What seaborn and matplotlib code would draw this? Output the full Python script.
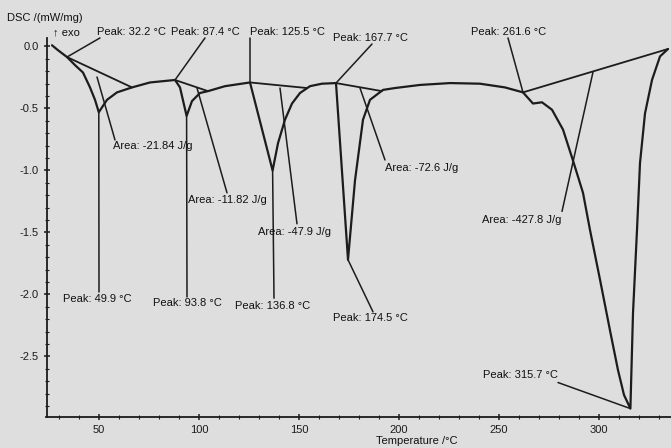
import matplotlib
matplotlib.use("Agg")
import matplotlib.pyplot as plt
import seaborn as sns
import pandas as pd

# DSC curve (temperature in degC, heat flow in mW/mg)
temp = [26.5, 29.5, 34, 38, 42, 45.5, 48, 49.9, 54, 59, 66.5, 75.5, 88,
        90.5, 93.8, 96.5, 100.5, 104.5, 113, 125.5, 136.8, 139.5, 143,
        146.5, 150.5, 155.5, 161.5, 168.5, 174.5, 178, 182, 185.5, 192,
        198, 210.5, 225.5, 240.5, 253, 262, 267, 271.5, 276.5, 282, 287,
        292, 295.5, 300.5, 305.5, 309.5, 312.5, 315.7, 317, 319, 320.5,
        323, 326.5, 330.5, 334.5]
dsc = [0.01, -0.03, -0.085, -0.15, -0.21, -0.33, -0.43, -0.53, -0.43,
       -0.37, -0.33, -0.29, -0.27, -0.33, -0.56, -0.44, -0.375, -0.36,
       -0.32, -0.29, -1.00, -0.78, -0.59, -0.46, -0.375, -0.32, -0.30,
       -0.295, -1.72, -1.08, -0.59, -0.43, -0.35, -0.335, -0.31, -0.295,
       -0.30, -0.33, -0.37, -0.46, -0.45, -0.51, -0.67, -0.92, -1.18,
       -1.48, -1.88, -2.29, -2.61, -2.81, -2.92, -2.15, -1.48, -0.94,
       -0.54, -0.27, -0.08, -0.02]

# integration baselines: (T start, v start, T end, v end)
baselines = [
    (34, -0.085, 66.5, -0.33),
    (88, -0.27, 104.5, -0.36),
    (125.5, -0.29, 154, -0.335),
    (168.5, -0.295, 191.5, -0.36),
    (262, -0.37, 334.5, -0.02),
]

# labels: text, text x, text y, leader from (x, y) to (x, y)
peak_labels = ["Peak: 32.2 °C", "Peak: 87.4 °C", "Peak: 125.5 °C",
               "Peak: 167.7 °C", "Peak: 261.6 °C", "Peak: 49.9 °C",
               "Peak: 93.8 °C", "Peak: 136.8 °C", "Peak: 174.5 °C",
               "Peak: 315.7 °C"]
peak_text_pos = [(49, 0.117), (86, 0.117), (125.5, 0.117), (167, 0.069),
                 (236, 0.117), (32, -2.04), (77, -2.07), (118, -2.09),
                 (167, -2.19), (242, -2.65)]
peak_leaders = [((50.5, 0.069), (34, -0.085)),
                ((103, 0.069), (88, -0.27)),
                ((125.5, 0.069), (125.5, -0.29)),
                ((186.5, 0.02), (168.5, -0.295)),
                ((254.5, 0.069), (262, -0.37)),
                ((50, -1.98), (49.9, -0.53)),
                ((94, -2.02), (93.8, -0.56)),
                ((137.5, -2.03), (136.8, -1.00)),
                ((187, -2.14), (174.5, -1.72)),
                ((279.5, -2.71), (315.7, -2.92))]

area_labels = ["Area: -21.84 J/g", "Area: -11.82 J/g", "Area: -47.9 J/g",
               "Area: -72.6 J/g", "Area: -427.8 J/g"]
area_text_pos = [(57, -0.80), (94.5, -1.24), (129.5, -1.50), (193, -0.98),
                 (241.5, -1.40)]
area_leaders = [((58, -0.754), (49, -0.246)),
                ((114, -1.18), (99, -0.335)),
                ((149, -1.43), (140.5, -0.335)),
                ((193, -0.915), (180.5, -0.335)),
                ((281.5, -1.33), (297, -0.206))]

bg = "#dedede"
ink = "#1c1c1c"

sns.set_style("ticks")
plt.rcParams["font.family"] = ["Liberation Sans", "DejaVu Sans"]

fig = plt.figure(figsize=(6.71, 4.48), dpi=100, facecolor=bg)
ax = fig.add_axes([46.5 / 671, 1 - 417 / 448, (671 - 46.5) / 671, (417 - 38) / 448])
ax.set_facecolor(bg)

df = pd.DataFrame({"T": temp, "DSC": dsc})
sns.lineplot(data=df, x="T", y="DSC", sort=False, estimator=None,
             color=ink, linewidth=1.6, ax=ax)

for x0, y0, x1, y1 in baselines:
    ax.plot([x0, x1], [y0, y1], color=ink, linewidth=1.3)

for lab, (tx, ty), (p0, p1) in zip(peak_labels + area_labels,
                                   peak_text_pos + area_text_pos,
                                   peak_leaders + area_leaders):
    ax.plot([p0[0], p1[0]], [p0[1], p1[1]], color=ink, linewidth=1.1,
            clip_on=False)
    ax.text(tx, ty, lab, fontsize=8, color="#111111", ha="left",
            va="center", clip_on=False)

ax.text(27, 0.117, "↑ exo", fontsize=8, color="#111111", ha="left",
        va="center", family=["Liberation Sans", "DejaVu Sans"])
fig.text(7 / 671, 1 - 18 / 448, "DSC /(mW/mg)", fontsize=8,
         color="#111111", ha="left", va="center")

ax.set_xlim(23.75, 336)
ax.set_ylim(-2.988, 0.0685)
ax.set_xticks([50, 100, 150, 200, 250, 300])
ax.set_xticks(range(30, 336, 10), minor=True)
ax.set_yticks([0.0, -0.5, -1.0, -1.5, -2.0, -2.5])
ax.set_yticklabels(["0.0", "-0.5", "-1.0", "-1.5", "-2.0", "-2.5"])
ax.set_yticks([v / 10 for v in range(-29, 1)], minor=True)
ax.tick_params(axis="both", which="major", direction="inout", length=5,
               width=1.1, labelsize=8, colors=ink, pad=3)
ax.tick_params(axis="both", which="minor", direction="inout", length=2.5,
               width=0.8, colors=ink)

ax.set_xlabel("Temperature /°C", fontsize=8, color="#111111")
ax.xaxis.set_label_coords(0.593, -0.05)
ax.set_ylabel("")

sns.despine(ax=ax)
for side in ["left", "bottom"]:
    ax.spines[side].set_color(ink)
    ax.spines[side].set_linewidth(1.3)

fig.savefig("out.png", dpi=100, facecolor=bg)
